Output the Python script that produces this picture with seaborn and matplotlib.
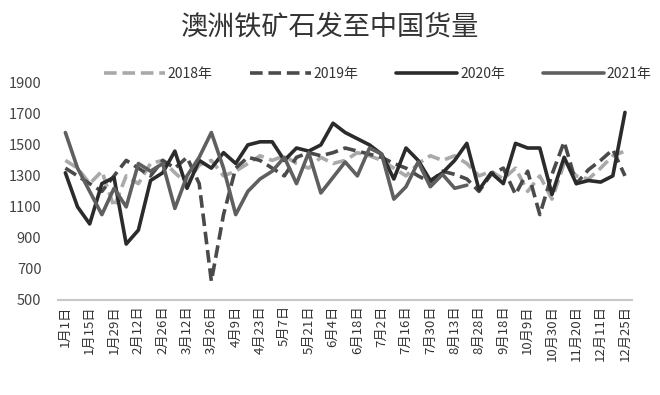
import numpy as np
import pandas as pd
import matplotlib
matplotlib.use("Agg")
import matplotlib.pyplot as plt
import seaborn as sns

# weekly categories (only every other one is labelled)
dates = ["1月1日", "1月8日", "1月15日", "1月22日", "1月29日", "2月5日", "2月12日", "2月19日",
         "2月26日", "3月5日", "3月12日", "3月19日", "3月26日", "4月2日", "4月9日", "4月16日",
         "4月23日", "4月30日", "5月7日", "5月14日", "5月21日", "5月28日", "6月4日", "6月11日",
         "6月18日", "6月25日", "7月2日", "7月9日", "7月16日", "7月23日", "7月30日", "8月6日",
         "8月13日", "8月21日", "8月28日", "9月4日", "9月18日", "9月28日", "10月9日", "10月19日",
         "10月30日", "11月9日", "11月20日", "12月1日", "12月11日", "12月18日", "12月25日"]

y2018 = [1400, 1350, 1250, 1330, 1100, 1300, 1250, 1380, 1400, 1320, 1250, 1370, 1400, 1300,
         1330, 1380, 1430, 1400, 1430, 1380, 1350, 1420, 1380, 1400, 1450, 1430, 1400, 1350,
         1300, 1380, 1430, 1400, 1430, 1380, 1300, 1330, 1280, 1350, 1200, 1300, 1150, 1380,
         1300, 1280, 1350, 1430, 1460]
y2019 = [1350, 1300, 1250, 1200, 1300, 1400, 1350, 1300, 1400, 1350, 1420, 1250, 620, 1050,
         1350, 1420, 1400, 1350, 1300, 1420, 1450, 1430, 1450, 1480, 1460, 1440, 1420, 1380,
         1350, 1300, 1260, 1330, 1310, 1280, 1200, 1310, 1350, 1180, 1330, 1050, 1310, 1520,
         1250, 1340, 1400, 1470, 1300]
y2020 = [1320, 1100, 990, 1250, 1290, 860, 950, 1270, 1320, 1460, 1220, 1400, 1350, 1450,
         1380, 1500, 1520, 1520, 1400, 1480, 1460, 1500, 1640, 1580, 1540, 1500, 1440, 1280,
         1480, 1400, 1270, 1320, 1400, 1510, 1210, 1320, 1250, 1510, 1480, 1480, 1180, 1420,
         1250, 1270, 1260, 1300, 1710]
y2021 = [1580, 1350, 1200, 1050, 1220, 1100, 1380, 1330, 1380, 1090, 1300, 1420, 1580, 1350,
         1050, 1200, 1280, 1330, 1420, 1250, 1450, 1190, 1290, 1390, 1300, 1480, 1440, 1150,
         1230, 1390, 1230, 1310, 1220, 1240]

years = ["2018年", "2019年", "2020年", "2021年"]
series = [y2018, y2019, y2020, y2021]

rows = []
for yr, vals in zip(years, series):
    for i, v in enumerate(vals):
        rows.append({"idx": i, "val": v, "year": yr})
df = pd.DataFrame(rows)

sns.set_style("white")
plt.rcParams["font.family"] = ["Noto Sans CJK SC", "DejaVu Sans"]

fig, ax = plt.subplots(figsize=(6.6, 3.95), dpi=100)
fig.subplots_adjust(left=0.088, right=0.958, top=0.79, bottom=0.241)

palette = {"2018年": "#a9a9a9", "2019年": "#4a4a4a", "2020年": "#2b2b2b", "2021年": "#5f5f5f"}
dashes = {"2018年": (3.5, 1.6), "2019年": (3.5, 1.6), "2020年": "", "2021年": ""}

sns.lineplot(data=df, x="idx", y="val", hue="year", style="year",
             palette=palette, dashes=dashes, linewidth=2.6, ax=ax)

ax.set_ylim(500, 1900)
ax.set_yticks(range(500, 2000, 200))
ax.set_xlim(-0.6, len(dates) - 0.4)
ax.set_xticks(range(0, len(dates), 2))
ax.set_xticklabels(dates[::2], rotation=90, fontsize=9.5, color="#333333")
ax.tick_params(axis="y", labelsize=10.5, colors="#444444", length=0, pad=12)
ax.tick_params(axis="x", length=0, pad=4)
ax.set_xlabel("")
ax.set_ylabel("")

for side in ["top", "right", "left"]:
    ax.spines[side].set_visible(False)
ax.spines["bottom"].set_color("#c8c8c8")
ax.spines["bottom"].set_linewidth(1.5)

ax.legend(loc="center", bbox_to_anchor=(0.572, 0.812), bbox_transform=fig.transFigure,
          ncol=4, frameon=False, fontsize=10, handlelength=4.4, handletextpad=0.2,
          columnspacing=2.7, labelcolor="#333333")

fig.suptitle("澳洲铁矿石发至中国货量", x=0.5, y=0.965, fontsize=19.5, color="#333333")

fig.savefig("out.png", dpi=100)
